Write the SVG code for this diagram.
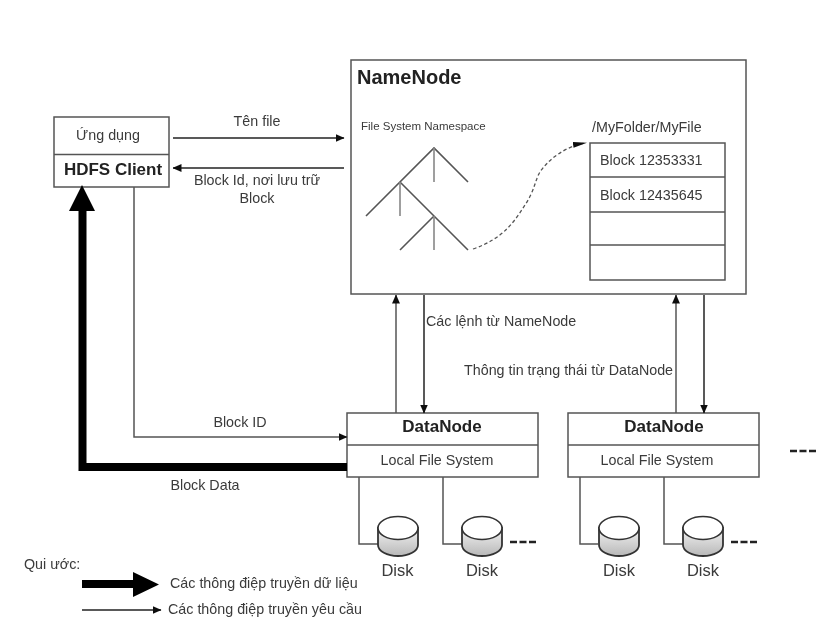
<svg xmlns="http://www.w3.org/2000/svg" width="829" height="635" viewBox="0 0 829 635">
<style>
text{font-family:"Liberation Sans",Arial,sans-serif;fill:#3a3a3a;font-size:14.300px}
.m{text-anchor:middle}
.b{font-weight:bold;fill:#222}
.box{fill:#fff;stroke:#555;stroke-width:1.5}
.ln{fill:none;stroke:#555;stroke-width:1.5}
.dk{fill:none;stroke:#222;stroke-width:1.5}
.tree{fill:none;stroke:#555;stroke-width:1.6}
.gr{stroke:#888;stroke-width:1.6}
.dash{fill:none;stroke:#222;stroke-width:2.5;stroke-dasharray:7 2.500}
.cyl{fill:url(#g);stroke:#333;stroke-width:1.8}
.top{fill:#fff;stroke:#333;stroke-width:1.6}
.soft{filter:url(#s)}
</style>
<defs>
<filter id="s" filterUnits="userSpaceOnUse" x="0" y="0" width="829" height="635"><feGaussianBlur stdDeviation="0.550"/></filter>
<linearGradient id="g" x1="0" x2="0" y1="0" y2="1"><stop offset="0" stop-color="#f2f2f2"/><stop offset="1" stop-color="#b8b8b8"/></linearGradient>
<marker id="a" markerUnits="userSpaceOnUse" markerWidth="9" markerHeight="8" refX="8.500" refY="4" orient="auto"><path d="M0 0L9 4L0 8Z" fill="#111"/></marker>
<marker id="d" markerUnits="userSpaceOnUse" markerWidth="14" markerHeight="6" refX="13" refY="3" orient="auto"><path d="M0 0L14 3L0 6Z" fill="#111"/></marker>
<g id="disk"><path class="cyl" d="M0 12V29C0 35 9 40 20 40S40 35 40 29V12Z"/><ellipse class="top" cx="20" cy="12" rx="20" ry="11.500"/></g>
</defs>

<g class="soft">
<g id="hdfs-client">
<rect class="box" x="54" y="117" width="115" height="70"/>
<path class="ln" d="M54 154.500H169"/>
<text class="m" x="108" y="140">Ứng dụng</text>
<text class="m b" x="113" y="175" style="font-size:17px">HDFS Client</text>
</g>

<g id="namenode">
<rect class="box" x="351" y="60" width="395" height="234"/>
<text class="b" x="357" y="84" style="font-size:20px">NameNode</text>
<text x="361" y="130" style="font-size:11.500px">File System Namespace</text>
<path class="tree" d="M366 216L434 148L468 182M400 182L468 250M400 250L434 216"/>
<path class="gr" d="M434 148V182M400 182V216M434 216V250"/>
<text x="592" y="132">/MyFolder/MyFile</text>
<g id="block-list">
<rect class="box" x="590" y="143" width="135" height="137"/>
<path class="ln" d="M590 177H725M590 212H725M590 245H725"/>
<text x="600" y="165">Block 12353331</text>
<text x="600" y="200">Block 12435645</text>
</g>
</g>

<g id="datanode-1">
<rect class="box" x="347" y="413" width="191" height="64"/>
<path class="ln" d="M347 445H538"/>
<text class="m b" x="442" y="432" style="font-size:17px">DataNode</text>
<text class="m" x="437" y="465">Local File System</text>
</g>
<g id="datanode-2">
<rect class="box" x="568" y="413" width="191" height="64"/>
<path class="ln" d="M568 445H759"/>
<text class="m b" x="664" y="432" style="font-size:17px">DataNode</text>
<text class="m" x="657" y="465">Local File System</text>
</g>

<g id="connectors">
<path class="dk" marker-end="url(#a)" d="M173 138H344"/>
<path class="dk" marker-end="url(#a)" d="M344 168H173"/>
<path class="ln" marker-end="url(#a)" d="M134 187V437H347"/>
<path d="M347 467H82.500V210" fill="none" stroke="#000" stroke-width="8"/>
<path d="M82 185L95 211H69Z" fill="#000"/>
<path class="ln" marker-end="url(#a)" d="M396 413V295"/>
<path class="dk" marker-end="url(#a)" d="M424 295V413"/>
<path class="ln" marker-end="url(#a)" d="M676 413V295"/>
<path class="dk" marker-end="url(#a)" d="M704 295V413"/>
<path class="ln" d="M359 477V544H378M443 477V544H462M580 477V544H598M664 477V544H683"/>
<path fill="none" stroke="#555" stroke-width="1.300" stroke-dasharray="3.500 2.500" marker-end="url(#d)" d="M473 249C505 238 515 220 525 205C535 190 535 180 540 172C548 160 565 146 586 143"/>
</g>

<g id="disk-1"><use href="#disk" x="378" y="516"/><text class="m" x="397.500" y="576" style="font-size:16.500px">Disk</text></g>
<g id="disk-2"><use href="#disk" x="462" y="516"/><text class="m" x="482" y="576" style="font-size:16.500px">Disk</text></g>
<g id="disk-3"><use href="#disk" x="599" y="516"/><text class="m" x="619" y="576" style="font-size:16.500px">Disk</text></g>
<g id="disk-4"><use href="#disk" x="683" y="516"/><text class="m" x="703" y="576" style="font-size:16.500px">Disk</text></g>

<path class="dash" d="M510 542H536M731 542H757M790 451H816"/>

<g id="labels">
<text class="m" x="257" y="126">Tên file</text>
<text class="m" x="257" y="185">Block Id, nơi lưu trữ</text>
<text class="m" x="257" y="203">Block</text>
<text x="426" y="326">Các lệnh từ NameNode</text>
<text x="464" y="375">Thông tin trạng thái từ DataNode</text>
<text class="m" x="240" y="427">Block ID</text>
<text class="m" x="205" y="490">Block Data</text>
</g>

<g id="legend">
<text x="24" y="569">Qui ước:</text>
<path d="M82 580H133V572L159 584.500L133 597V588H82Z" fill="#000"/>
<path class="dk" marker-end="url(#a)" d="M82 610H161"/>
<text x="170" y="588">Các thông điệp truyền dữ liệu</text>
<text x="168" y="614">Các thông điệp truyền yêu cầu</text>
</g>
</g>
</svg>
